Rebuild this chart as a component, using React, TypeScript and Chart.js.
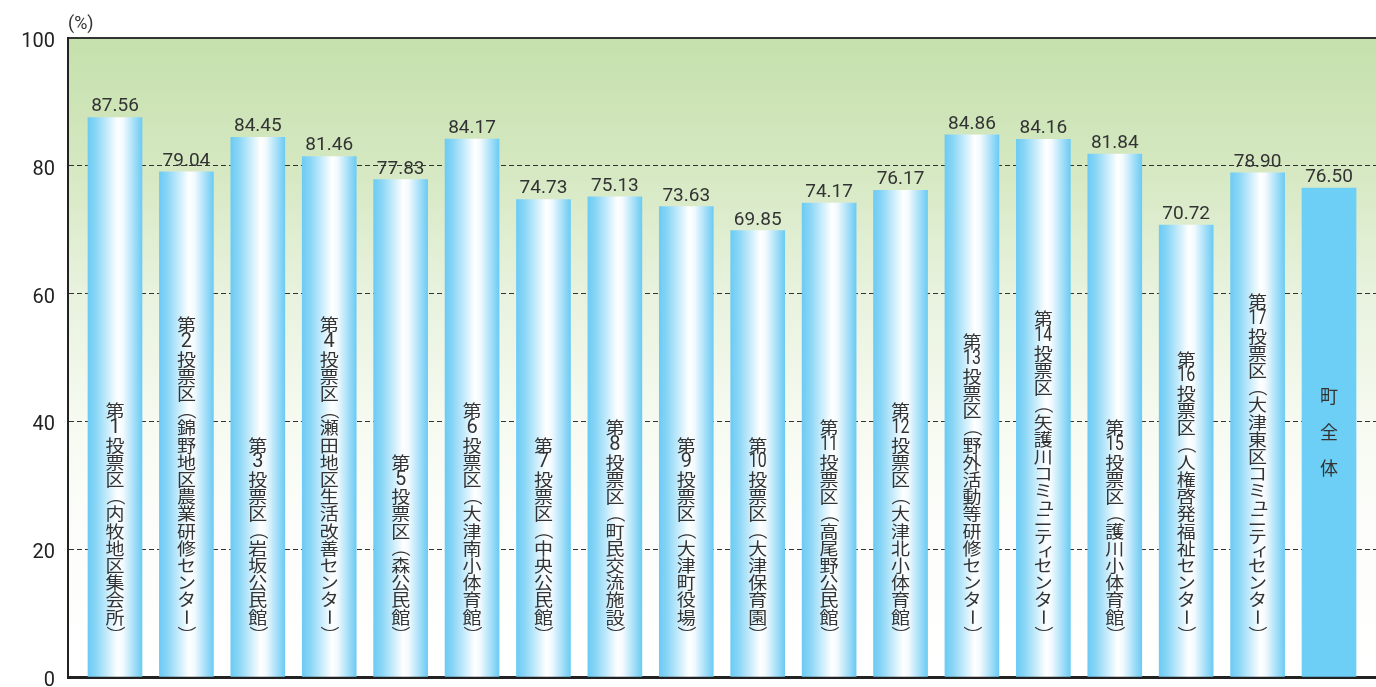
import React, { useEffect, useRef } from 'react';
import { Chart, registerables } from 'chart.js';

Chart.register(...registerables);

const categories: string[] = [
  '第1投票区（内牧地区集会所）',
  '第2投票区（錦野地区農業研修センター）',
  '第3投票区（岩坂公民館）',
  '第4投票区（瀬田地区生活改善センター）',
  '第5投票区（森公民館）',
  '第6投票区（大津南小体育館）',
  '第7投票区（中央公民館）',
  '第8投票区（町民交流施設）',
  '第9投票区（大津町役場）',
  '第10投票区（大津保育園）',
  '第11投票区（高尾野公民館）',
  '第12投票区（大津北小体育館）',
  '第13投票区（野外活動等研修センター）',
  '第14投票区（矢護川コミュニティセンター）',
  '第15投票区（護川小体育館）',
  '第16投票区（人権啓発福祉センター）',
  '第17投票区（大津東区コミュニティセンター）',
  '町全体',
];

const values: number[] = [
  87.56, 79.04, 84.45, 81.46, 77.83, 84.17, 74.73, 75.13, 73.63,
  69.85, 74.17, 76.17, 84.86, 84.16, 81.84, 70.72, 78.9, 76.5,
];

const yTicks: number[] = [0, 20, 40, 60, 80, 100];
const yUnit = '(%)';

const SMALL = new Set(['ュ', 'ィ', 'ッ', 'ャ', 'ョ']);
const ROT = new Set(['（', '）', 'ー']);
const tokenize = (s: string): string[] => s.match(/[0-9]+|./gu) || [];

const bgPlugin = {
  id: 'bgGrad',
  beforeDraw(chart: any) {
    const { ctx, chartArea } = chart;
    if (!chartArea) return;
    const g = ctx.createLinearGradient(0, chartArea.top, 0, chartArea.bottom);
    g.addColorStop(0, 'rgb(197,224,172)');
    g.addColorStop(0.2, 'rgb(213,232,193)');
    g.addColorStop(0.4, 'rgb(232,242,222)');
    g.addColorStop(0.6, 'rgb(246,250,240)');
    g.addColorStop(0.75, 'rgb(252,253,250)');
    g.addColorStop(1, '#ffffff');
    ctx.save();
    ctx.fillStyle = g;
    ctx.fillRect(chartArea.left, chartArea.top, chartArea.right - chartArea.left, chartArea.bottom - chartArea.top);
    ctx.fillStyle = '#333';
    ctx.font = '18px Roboto';
    ctx.textAlign = 'left';
    ctx.textBaseline = 'middle';
    ctx.fillText(yUnit, chartArea.left, chartArea.top - 14);
    ctx.restore();
  },
};

const labelPlugin = {
  id: 'barLabels',
  afterDatasetsDraw(chart: any) {
    const { ctx, chartArea } = chart;
    const meta = chart.getDatasetMeta(0);
    meta.data.forEach((bar: any, i: number) => {
      const x = bar.x;
      const top = bar.y;
      ctx.save();
      ctx.fillStyle = '#333';
      ctx.font = '19px Roboto';
      ctx.textAlign = 'center';
      ctx.textBaseline = 'alphabetic';
      ctx.fillText(values[i].toFixed(2), x, top - 6);

      const cjk = '19px "Noto Sans CJK JP"';
      if (i === categories.length - 1) {
        const chars = Array.from(categories[i]);
        const mid = (top + chartArea.bottom) / 2;
        ctx.font = '18px "Noto Sans CJK JP"';
        ctx.textBaseline = 'middle';
        chars.forEach((c, k) => {
          ctx.fillText(c, x, mid + (k - (chars.length - 1) / 2) * 36);
        });
      } else {
        const toks = tokenize(categories[i]);
        const steps = toks.map((t) => (SMALL.has(t) ? 11.5 : 17.2));
        const total = steps.reduce((a, b) => a + b, 0);
        let y = chartArea.bottom - 34 - total;
        toks.forEach((t, k) => {
          const cy = y + steps[k] / 2;
          ctx.save();
          ctx.textAlign = 'center';
          ctx.textBaseline = 'middle';
          if (/^[0-9]+$/.test(t)) {
            ctx.font = '20px Roboto';
            ctx.translate(x, cy);
            ctx.scale(t.length > 1 ? 0.8 : 1, 1);
            ctx.fillText(t, 0, 0);
          } else if (ROT.has(t)) {
            ctx.font = cjk;
            ctx.translate(x, cy);
            ctx.rotate(Math.PI / 2);
            ctx.scale(0.88, 1);
            ctx.fillText(t, 0, 0);
          } else if (SMALL.has(t)) {
            ctx.font = cjk;
            ctx.translate(x + 3, cy - 2);
            ctx.scale(1, 0.88);
            ctx.fillText(t, 0, 0);
          } else {
            ctx.font = cjk;
            ctx.translate(x, cy);
            ctx.scale(1, 0.88);
            ctx.fillText(t, 0, 0);
          }
          ctx.restore();
          y += steps[k];
        });
      }
      ctx.restore();
    });
  },
};

export default function App() {
  const ref = useRef<HTMLCanvasElement | null>(null);
  useEffect(() => {
    if (!ref.current) return;
    const last = values.length - 1;
    const chart = new Chart(ref.current, {
      type: 'bar',
      data: {
        datasets: [
          {
            data: values.map((v, i) => ({ x: i, y: v })) as any,
            barThickness: 54,
            borderWidth: 0,
            backgroundColor: (c: any) => {
              if (c.dataIndex === last) return '#6dcff6';
              const ch = c.chart;
              const xs = ch.scales && ch.scales.x;
              if (!xs || !ch.chartArea) return '#6dcff6';
              const px = xs.getPixelForValue(c.dataIndex);
              const g = ch.ctx.createLinearGradient(px - 27, 0, px + 27, 0);
              g.addColorStop(0, '#6ccbf4');
              g.addColorStop(0.15, '#8ad6f6');
              g.addColorStop(0.55, '#ffffff');
              g.addColorStop(0.65, '#f2fafe');
              g.addColorStop(1, '#6ccbf4');
              return g;
            },
          },
        ],
      },
      options: {
        animation: false,
        responsive: true,
        maintainAspectRatio: false,
        layout: { padding: { top: 38, bottom: 10, left: 0, right: 0 } },
        plugins: { legend: { display: false }, tooltip: { enabled: false } },
        scales: {
          x: {
            type: 'linear',
            offset: false,
            min: -0.658,
            max: 17.658,
            grid: { display: false, drawTicks: false },
            ticks: { display: false },
            border: { display: true, color: '#222', width: 3 },
          },
          y: {
            min: 0,
            max: 100,
            afterFit: (s: any) => {
              s.width = 68;
              s.paddingTop = 0;
              s.paddingBottom = 0;
            },
            afterBuildTicks: (s: any) => {
              s.ticks = yTicks.map((v) => ({ value: v }));
            },
            ticks: {
              color: '#222',
              padding: 13,
              font: { family: 'Roboto', size: 20, lineHeight: 0.4 },
              callback: (v: any) => ['', String(v)],
            },
            grid: {
              drawTicks: false,
              color: (c: any) => (c.tick && c.tick.value === 0 ? 'rgba(0,0,0,0)' : '#333'),
              lineWidth: (c: any) => (c.tick && c.tick.value === 100 ? 2 : 1),
            },
            border: {
              display: true,
              color: '#222',
              width: 2,
              dash: (c: any) => (c.tick && c.tick.value === 100 ? [] : [5, 3]),
            } as any,
          },
        },
      } as any,
      plugins: [bgPlugin, labelPlugin],
    });
    return () => chart.destroy();
  }, []);
  return (
    <div style={{ position: 'fixed', left: 0, top: 0, width: 1376, height: 687, background: '#fff' }}>
      <canvas ref={ref} />
    </div>
  );
}
